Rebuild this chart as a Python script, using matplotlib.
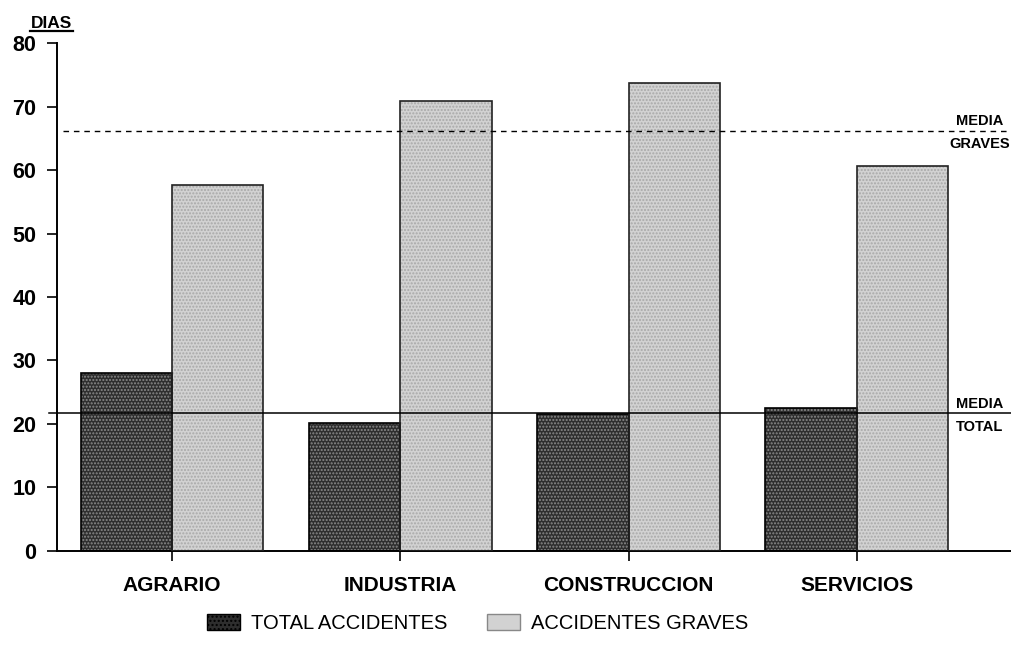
import numpy as np
import matplotlib
matplotlib.use('Agg')
import matplotlib.pyplot as plt
from matplotlib.patches import Patch
from matplotlib.lines import Line2D

sectores = ['AGRARIO', 'INDUSTRIA', 'CONSTRUCCION', 'SERVICIOS']
total_accidentes = [28.0, 20.2, 21.6, 22.5]
accidentes_graves = [57.6, 70.9, 73.7, 60.7]
media_total = 21.7
media_graves = 66.2
yticks = [0, 10, 20, 30, 40, 50, 60, 70, 80]

plt.rcParams['font.family'] = ['Liberation Sans', 'DejaVu Sans']

fig = plt.figure(figsize=(10.12, 6.66), dpi=100)
ax = fig.add_axes([0.0563, 0.1727, 0.9437, 0.7627])

x = np.arange(len(sectores))
w = 0.40
dark = '#2e2e2e'
light = '#d2d2d2'

# relleno punteado + contorno aparte (el hatch toma el color del borde)
ax.bar(x - w/2, total_accidentes, w, color=dark, edgecolor='#8a8a8a', linewidth=0, hatch='.....', zorder=2)
ax.bar(x - w/2, total_accidentes, w, fill=False, edgecolor='black', linewidth=1.2, zorder=3)
ax.bar(x + w/2, accidentes_graves, w, color=light, edgecolor='#a8a8a8', linewidth=0, hatch='.....', zorder=2)
ax.bar(x + w/2, accidentes_graves, w, fill=False, edgecolor='#222222', linewidth=1.2, zorder=3)

ax.axhline(media_graves, xmin=0.006, xmax=1, color='black', linewidth=1.0, dashes=(4, 3.5), zorder=4)
ax.axhline(media_total, xmin=-0.008, xmax=1, color='black', linewidth=1.1, zorder=4, clip_on=False)

tr = ax.get_yaxis_transform()
ax.text(0.966, media_graves + 0.4, 'MEDIA', transform=tr, ha='center', va='bottom',
        fontsize=10.5, fontweight='bold')
ax.text(0.966, media_graves - 1.0, 'GRAVES', transform=tr, ha='center', va='top',
        fontsize=10.5, fontweight='bold')
ax.text(0.966, media_total + 0.3, 'MEDIA', transform=tr, ha='center', va='bottom',
        fontsize=10.5, fontweight='bold')
ax.text(0.966, media_total - 1.1, 'TOTAL', transform=tr, ha='center', va='top',
        fontsize=10.5, fontweight='bold')

ax.set_xlim(-0.504, 3.68)
ax.set_ylim(0, 80)
ax.set_yticks(yticks)
ax.set_xticks(x)
ax.set_xticklabels(sectores, fontsize=15, fontweight='bold')
ax.set_yticklabels([str(v) for v in yticks], fontsize=15.5, fontweight='bold')
ax.tick_params(axis='y', length=7, width=1.2, pad=8)
ax.tick_params(axis='x', length=7, width=1.2, pad=11)

for s in ['top', 'right']:
    ax.spines[s].set_visible(False)
ax.spines['left'].set_linewidth(1.4)
ax.spines['bottom'].set_linewidth(1.4)

fig.text(0.0512, 0.965, 'DIAS', ha='center', va='center', fontsize=12.5, fontweight='bold')
fig.add_artist(Line2D([0.030, 0.072], [0.954, 0.954], color='black', linewidth=1.6))

handles = [Patch(facecolor=dark, edgecolor='black', hatch='....'),
           Patch(facecolor=light, edgecolor='#888888')]
fig.legend(handles, ['TOTAL ACCIDENTES', 'ACCIDENTES GRAVES'], loc='center',
           bbox_to_anchor=(0.472, 0.064), ncol=2, frameon=False, fontsize=14.5,
           handlelength=1.6, handleheight=0.85, handletextpad=0.55, columnspacing=2.0)

fig.savefig('out.png', dpi=100)
